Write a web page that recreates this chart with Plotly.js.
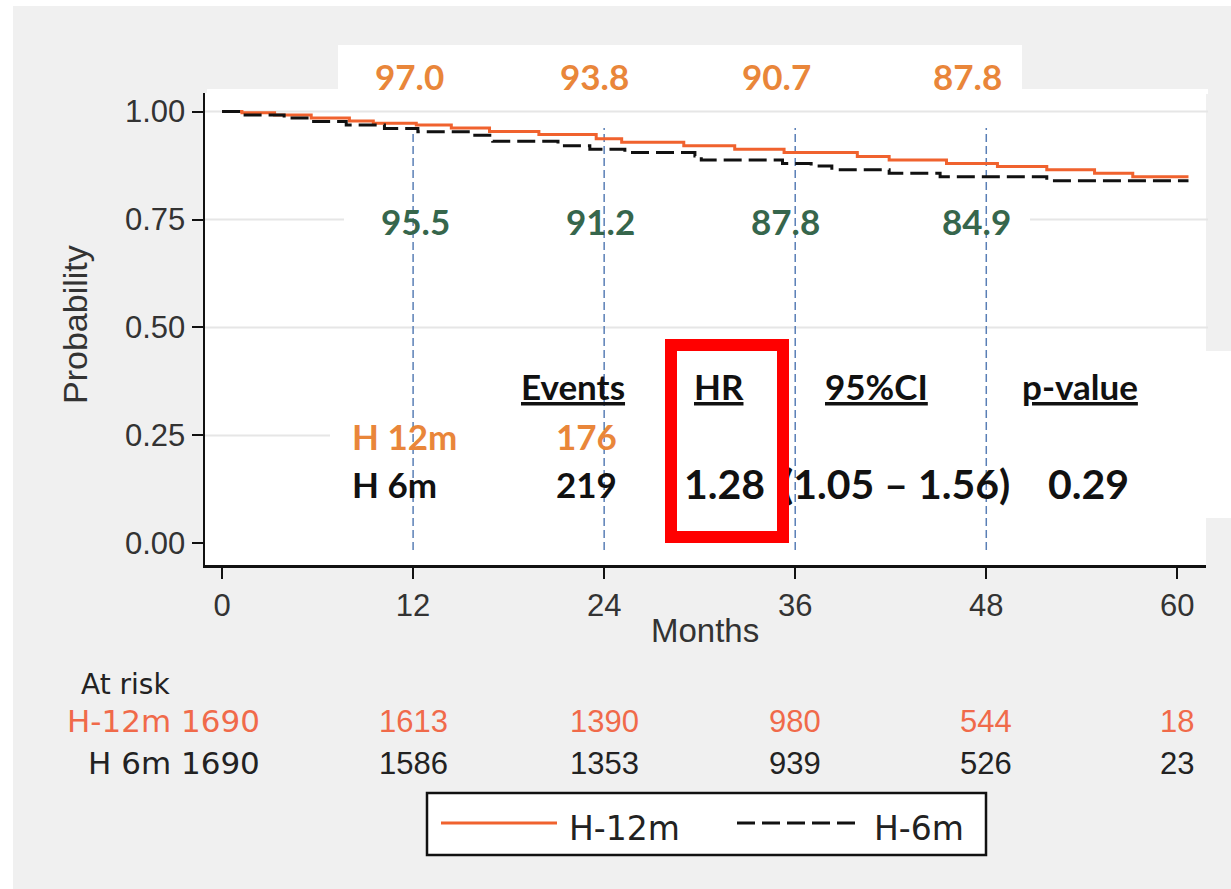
<!DOCTYPE html>
<html>
<head>
<meta charset="utf-8">
<script src="https://cdn.plot.ly/plotly-3.0.1.min.js"></script>
<style>
  html, body { margin: 0; padding: 0; background: #f0f0f0; }
  #chart { width: 1231px; height: 889px; }
</style>
</head>
<body>
<div id="chart"></div>
<script>
// ---------- data ----------
const groups = ["H-12m", "H-6m"];
const tableGroups = ["H 12m", "H 6m"];
const time12 = [0, 1.25, 3.3, 5.6, 8.0, 9.5, 12.2, 14.4, 16.8, 19.9, 23.5, 25.1, 29.0, 32.2, 35.3, 39.9, 41.9, 45.5, 48.7, 51.8, 54.8, 57.2, 60.7];
const surv12 = [1.000, 0.997, 0.992, 0.985, 0.978, 0.973, 0.969, 0.962, 0.954, 0.947, 0.937, 0.929, 0.921, 0.913, 0.905, 0.896, 0.888, 0.880, 0.873, 0.865, 0.857, 0.849, 0.849];
const time6 = [0, 1.25, 3.9, 5.6, 7.8, 10.2, 12.3, 15.7, 17.0, 21.1, 23.1, 25.3, 29.7, 30.1, 35.2, 37.0, 38.3, 41.9, 45.1, 51.8, 60.7];
const surv6 = [1.000, 0.992, 0.985, 0.977, 0.969, 0.961, 0.953, 0.945, 0.931, 0.921, 0.913, 0.905, 0.897, 0.888, 0.880, 0.874, 0.865, 0.857, 0.849, 0.840, 0.840];
const landmarks = [12, 24, 36, 48];
const pct12 = [97.0, 93.8, 90.7, 87.8];
const pct6 = [95.5, 91.2, 87.8, 84.9];
const xTicks = [0, 12, 24, 36, 48, 60];
const yTicks = [0, 0.25, 0.5, 0.75, 1.0];
const yTickText = ["0.00", "0.25", "0.50", "0.75", "1.00"];
const riskTimes = [0, 12, 24, 36, 48, 60];
const risk12 = [1690, 1613, 1390, 980, 544, 18];
const risk6 = [1690, 1586, 1353, 939, 526, 23];
const events = [176, 219];
const hr = 1.28;
const ciLow = 1.05, ciHigh = 1.56;
const pValue = 0.29;
const tableHeaders = ["Events", "HR", "95%CI", "p-value"];

// ---------- geometry helpers (pixel -> paper) ----------
const W = 1231, H = 889;
const M = { l: 205, r: 25, t: 93, b: 324 };
const PW = W - M.l - M.r, PH = H - M.t - M.b;
const px = v => (v - M.l) / PW;
const py = v => (H - M.b - v) / PH;

const ORANGE = "#f0622e";
const LABEL_OR = "#e9863a";
const GREEN = "#36664c";
const RISK_OR = "#f06a4a";
const CAL = "Lato, 'Open Sans', sans-serif";
const ARI = "'Liberation Sans', Arial, sans-serif";
const DJV = "'DejaVu Sans', 'Liberation Sans', sans-serif";

const traces = [
  { x: time12, y: surv12, type: "scatter", mode: "lines", name: groups[0],
    line: { shape: "hv", color: ORANGE, width: 3 }, hoverinfo: "skip", showlegend: false },
  { x: time6, y: surv6, type: "scatter", mode: "lines", name: groups[1],
    line: { shape: "hv", color: "#111", width: 3, dash: "18px,7px" }, hoverinfo: "skip", showlegend: false }
];

const shapes = [];
// white framing strips
shapes.push({ type: "rect", xref: "paper", yref: "paper", x0: px(0), x1: px(W), y0: py(0), y1: py(6), fillcolor: "#fff", line: { width: 0 }, layer: "below" });
shapes.push({ type: "rect", xref: "paper", yref: "paper", x0: px(0), x1: px(13), y0: py(0), y1: py(H), fillcolor: "#fff", line: { width: 0 }, layer: "below" });
// white box behind top labels
shapes.push({ type: "rect", xref: "paper", yref: "paper", x0: px(338), x1: px(1022), y0: py(45), y1: py(94), fillcolor: "#fff", line: { width: 0 }, layer: "below" });
shapes.push({ type: "rect", xref: "paper", yref: "paper", x0: px(207), x1: px(1208), y0: py(89), y1: py(94), fillcolor: "#fff", line: { width: 0 }, layer: "below" });
// gridlines
yTicks.filter(v => v > 0).forEach(v => {
  shapes.push({ type: "line", xref: "paper", yref: "y", x0: 0, x1: px(1208), y0: v, y1: v, line: { color: "#e6e6e6", width: 2 }, layer: "below" });
});
// vertical landmark lines
landmarks.forEach(t => {
  shapes.push({ type: "line", xref: "x", yref: "y", x0: t, x1: t, y0: -0.015, y1: 0.962, line: { color: "#5a7fb6", width: 1.5, dash: "8px,4px" }, layer: "below" });
});
// white boxes behind text rows
shapes.push({ type: "rect", xref: "paper", yref: "paper", x0: px(344), x1: px(1030), y0: py(189), y1: py(255), fillcolor: "#fff", line: { width: 0 }, layer: "below" });
shapes.push({ type: "rect", xref: "paper", yref: "paper", x0: px(330), x1: px(W + 5), y0: py(351), y1: py(518), fillcolor: "#fff", line: { width: 0 }, layer: "below" });
// legend box
shapes.push({ type: "rect", xref: "paper", yref: "paper", x0: px(427), x1: px(986), y0: py(793), y1: py(855), fillcolor: "#fff", line: { color: "#111", width: 2.5 } });
shapes.push({ type: "line", xref: "paper", yref: "paper", x0: px(441), x1: px(557), y0: py(823), y1: py(823), line: { color: ORANGE, width: 3 } });
shapes.push({ type: "line", xref: "paper", yref: "paper", x0: px(737), x1: px(856), y0: py(823), y1: py(823), line: { color: "#111", width: 3, dash: "18px,7px" } });

const ann = [];
const A = (o) => ann.push(Object.assign({ showarrow: false, xref: "paper", yref: "paper", xanchor: "center", yanchor: "middle" }, o));

// top landmark labels (H-12m) and green (H-6m)
const topShift = [-4, -10, -19, -19];
landmarks.forEach((t, i) => {
  A({ xref: "x", x: t, xshift: topShift[i], y: py(76), text: pct12[i].toFixed(1),
      font: { family: CAL, size: 35, color: LABEL_OR, weight: 700 } });
});
const grShift = [2, -4, -10, -10];
landmarks.forEach((t, i) => {
  A({ xref: "x", x: t, xshift: grShift[i], y: py(221), text: pct6[i].toFixed(1),
      font: { family: CAL, size: 35, color: GREEN, weight: 700 } });
});

// table
const hdrX = [573, 719, 876, 1080];
tableHeaders.forEach((h, i) => {
  A({ x: px(hdrX[i]), y: py(386), text: "<b><u>" + h + "</u></b>",
      font: { family: CAL, size: 35, color: "#111" } });
});
A({ x: px(350), xanchor: "left", y: py(436), text: "<b>" + tableGroups[0] + "</b>", font: { family: CAL, size: 35, color: LABEL_OR } });
A({ x: px(586), y: py(436), text: "<b>" + events[0] + "</b>", font: { family: CAL, size: 35, color: LABEL_OR } });
A({ x: px(350), xanchor: "left", y: py(484), text: "<b>" + tableGroups[1] + "</b>", font: { family: CAL, size: 35, color: "#111" } });
A({ x: px(586), y: py(484), text: "<b>" + events[1] + "</b>", font: { family: CAL, size: 35, color: "#111" } });
A({ x: px(724), y: py(483), text: "<b>" + hr.toFixed(2) + "</b>", font: { family: CAL, size: 41, color: "#111" } });
A({ x: px(896), y: py(483), text: "<b>(" + ciLow.toFixed(2) + " \u2013 " + ciHigh.toFixed(2) + ")</b>", font: { family: CAL, size: 41, color: "#111" } });
A({ x: px(1088), y: py(483), text: "<b>" + pValue.toFixed(2) + "</b>", font: { family: CAL, size: 41, color: "#111" } });
// red highlight box
A({ x: px(727), y: py(441), text: " ", width: 100, height: 180,
    bordercolor: "#ff0000", borderwidth: 12, borderpad: 0, bgcolor: "rgba(0,0,0,0)" });

// axis titles
A({ x: px(705), y: py(630), text: "Months", font: { family: ARI, size: 33, color: "#333" } });
A({ x: px(75), y: py(325), text: "Probability", textangle: -90, font: { family: ARI, size: 34, color: "#333" } });

// at risk table
A({ x: px(79), xanchor: "left", y: py(684), text: "At risk", font: { family: DJV, size: 28, color: "#222" } });
A({ x: px(262), xanchor: "right", y: py(721), text: groups[0] + " " + risk12[0], font: { family: DJV, size: 31, color: RISK_OR } });
A({ x: px(262), xanchor: "right", y: py(763), text: tableGroups[1] + " " + risk6[0], font: { family: DJV, size: 31, color: "#222" } });
riskTimes.forEach((t, i) => {
  if (i === 0) return;
  A({ xref: "x", x: t, y: py(721), text: String(risk12[i]), font: { family: ARI, size: 31, color: RISK_OR } });
  A({ xref: "x", x: t, y: py(763), text: String(risk6[i]), font: { family: ARI, size: 31, color: "#222" } });
});

// legend texts
A({ x: px(567), xanchor: "left", y: py(829), text: groups[0], font: { family: DJV, size: 33, color: "#222" } });
A({ x: px(872), xanchor: "left", y: py(829), text: groups[1], font: { family: DJV, size: 33, color: "#222" } });

const layout = {
  width: W, height: H,
  margin: { l: M.l, r: M.r, t: M.t, b: M.b, pad: 0 },
  paper_bgcolor: "#f0f0f0",
  plot_bgcolor: "#ffffff",
  showlegend: false,
  xaxis: {
    range: [-1.07, 61.8], tickvals: xTicks, ticktext: xTicks.map(String),
    ticks: "outside", ticklen: 11, tickwidth: 2, tickcolor: "#111",
    showline: true, linecolor: "#111", linewidth: 2.5, showgrid: false, zeroline: false,
    tickfont: { family: ARI, size: 31, color: "#333" }, fixedrange: true
  },
  yaxis: {
    range: [-0.05, 1.043], tickvals: yTicks, ticktext: yTickText,
    ticks: "outside", ticklen: 11, tickwidth: 2, tickcolor: "#111",
    showline: true, linecolor: "#111", linewidth: 2.5, showgrid: false, zeroline: false,
    tickfont: { family: ARI, size: 31, color: "#333" }, fixedrange: true
  },
  shapes: shapes,
  annotations: ann
};

Plotly.newPlot("chart", traces, layout, { displayModeBar: false, staticPlot: true });
</script>
</body>
</html>
